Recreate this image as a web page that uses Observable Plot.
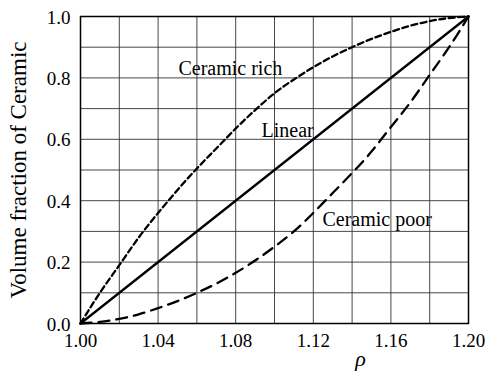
<!DOCTYPE html>
<html>
<head>
<meta charset="utf-8">
<script src="https://cdn.jsdelivr.net/npm/d3@7"></script>
<script src="https://cdn.jsdelivr.net/npm/@observablehq/plot@0.6"></script>
<style>
  html, body { margin: 0; padding: 0; background: #fff; }
  svg, svg text { font-family: "Liberation Serif", "DejaVu Serif", serif !important; }
</style>
</head>
<body>
<div id="chart"></div>
<script>
const rho = [1.00, 1.01, 1.02, 1.03, 1.04, 1.05, 1.06, 1.07, 1.08, 1.09, 1.10,
             1.11, 1.12, 1.13, 1.14, 1.15, 1.16, 1.17, 1.18, 1.19, 1.20];
const ceramicRich = [0, 0.10, 0.19, 0.28, 0.36, 0.435, 0.505, 0.57, 0.635, 0.695, 0.75,
                     0.795, 0.835, 0.87, 0.90, 0.927, 0.95, 0.97, 0.985, 0.995, 1.0];
const ceramicPoor = [0, 0.005, 0.015, 0.03, 0.05, 0.073, 0.10, 0.13, 0.165, 0.205, 0.25,
                     0.30, 0.36, 0.425, 0.49, 0.56, 0.64, 0.72, 0.81, 0.90, 1.0];
const linearX = [1.00, 1.20];
const linearY = [0, 1];

const xTicks = [1.00, 1.04, 1.08, 1.12, 1.16, 1.20];
const yTicks = [0, 0.2, 0.4, 0.6, 0.8, 1.0];
const xGrid = [1.02, 1.04, 1.06, 1.08, 1.10, 1.12, 1.14, 1.16, 1.18];
const yGrid = [0.1, 0.2, 0.3, 0.4, 0.5, 0.6, 0.7, 0.8, 0.9];

const labels = [
  {x: 1.0505, y: 0.811, text: "Ceramic rich"},
  {x: 1.0933, y: 0.606, text: "Linear"},
  {x: 1.1247, y: 0.319, text: "Ceramic poor"}
];

const rich = rho.map((r, i) => ({x: r, y: ceramicRich[i]}));
const poor = rho.map((r, i) => ({x: r, y: ceramicPoor[i]}));
const lin = linearX.map((r, i) => ({x: r, y: linearY[i]}));

const serif = "Liberation Serif";

const chart = Plot.plot({
  width: 486,
  height: 372,
  marginLeft: 80,
  marginRight: 18,
  marginTop: 16,
  marginBottom: 49,
  style: {fontFamily: "'Liberation Serif', serif", background: "#fff", color: "#000"},
  x: {domain: [1.00, 1.20]},
  y: {domain: [0, 1]},
  marks: [
    Plot.ruleX(xGrid, {stroke: "#333", strokeWidth: 0.9}),
    Plot.ruleY(yGrid, {stroke: "#333", strokeWidth: 0.9}),
    Plot.axisX({ticks: xTicks, tickFormat: ".2f", tickSize: 0, tickPadding: 10, fontSize: 19, fontFamily: serif, label: null}),
    Plot.axisY({ticks: yTicks, tickFormat: ".1f", tickSize: 0, tickPadding: 10, fontSize: 19, fontFamily: serif, dy: 1, label: null}),
    Plot.text(["Volume fraction of Ceramic"], {frameAnchor: "left", textAnchor: "middle", lineAnchor: "middle", dx: -62, rotate: -90, fontSize: 23, fontFamily: serif, fill: "#000"}),
    Plot.text(["ρ"], {frameAnchor: "bottom", textAnchor: "middle", lineAnchor: "middle", dx: 86, dy: 35, fontSize: 22, fontStyle: "italic", fontFamily: serif, fill: "#000"}),
    Plot.line(rich, {x: "x", y: "y", curve: "natural", stroke: "#000", strokeWidth: 2.3, strokeDasharray: "6,3.5"}),
    Plot.line(poor, {x: "x", y: "y", curve: "natural", stroke: "#000", strokeWidth: 2.3, strokeDasharray: "11,7"}),
    Plot.line(lin, {x: "x", y: "y", stroke: "#000", strokeWidth: 2.3}),
    Plot.text(labels, {x: "x", y: "y", text: "text", textAnchor: "start", lineAnchor: "bottom", fontSize: 20, fontFamily: serif, fill: "#000"}),
    Plot.frame({stroke: "#000", strokeWidth: 1.5})
  ]
});
document.getElementById("chart").appendChild(chart);
</script>
</body>
</html>
